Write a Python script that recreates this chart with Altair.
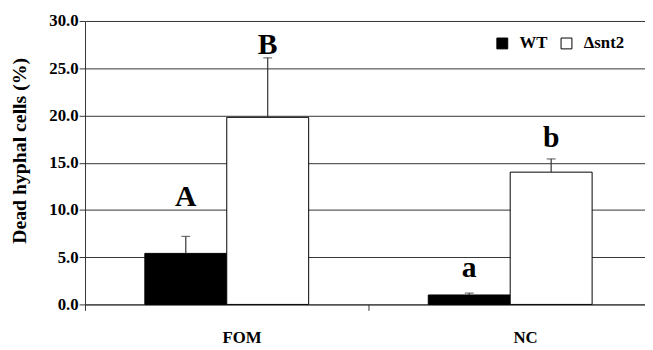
import altair as alt
import pandas as pd

conditions = ["FOM", "NC"]
strains = ["WT", "Δsnt2"]
wt_mean = [5.4, 1.0]
wt_err_top = [7.2, 1.2]
mut_mean = [19.8, 14.0]
mut_err_top = [26.1, 15.4]
wt_letters = ["A", "a"]
mut_letters = ["B", "b"]
wt_letter_y = [10.4, 2.9]
mut_letter_y = [26.5, 16.7]
y_ticks = [0, 5, 10, 15, 20, 25, 30]

rows = []
for i, c in enumerate(conditions):
    rows.append(dict(cond=c, strain=strains[0], mean=wt_mean[i], top=wt_err_top[i],
                     letter=wt_letters[i], ly=wt_letter_y[i]))
    rows.append(dict(cond=c, strain=strains[1], mean=mut_mean[i], top=mut_err_top[i],
                     letter=mut_letters[i], ly=mut_letter_y[i]))
df = pd.DataFrame(rows)

FONT = "Liberation Serif"
DARK = "#333333"

lab = dict(labelFont=FONT, labelFontSize=17, labelFontWeight="bold", labelColor="black")

x = alt.X("cond:N", sort=conditions, title=None,
          scale=alt.Scale(domain=conditions, paddingInner=0, paddingOuter=0),
          axis=alt.Axis(tickBand="extent", labelAngle=0, labelOffset=15,
                        labelPadding=20, grid=False, **lab))
xo = alt.XOffset("strain:N", sort=strains,
                 scale=alt.Scale(domain=strains, paddingInner=0, paddingOuter=0.73))
y = alt.Y("mean:Q", scale=alt.Scale(domain=[0, 30], nice=False),
          axis=alt.Axis(values=y_ticks, format=".1f", labelPadding=1, grid=True,
                        title="Dead hyphal cells (%)",
                        titleX=-66, titleY=131, titleBaseline="middle", **lab))

color = alt.Color("strain:N", sort=strains,
                  scale=alt.Scale(domain=strains, range=["black", "white"]),
                  legend=alt.Legend(title=None, orient="none", legendX=414, legendY=14,
                                    direction="horizontal", symbolType="square",
                                    symbolSize=121, symbolStrokeColor="black",
                                    symbolStrokeWidth=1, columnPadding=10, labelOffset=9,
                                    **lab))

bars = alt.Chart(df).mark_bar(stroke="black", strokeWidth=1).encode(x=x, xOffset=xo, y=y, color=color)
err = alt.Chart(df).mark_rule(color=DARK, strokeWidth=1.2).encode(
    x=x, xOffset=xo, y=alt.Y("mean:Q"), y2="top:Q")
cap = alt.Chart(df).mark_tick(color=DARK, thickness=1.2, size=9, orient="horizontal").encode(
    x=x, xOffset=xo, y=alt.Y("top:Q"))
letters = alt.Chart(df).mark_text(font=FONT, fontSize=30, fontWeight="bold",
                                  baseline="alphabetic", color="black").encode(
    x=x, xOffset=xo, y=alt.Y("ly:Q"), text="letter:N")

chart = alt.layer(bars, err, cap, letters).properties(
    width=574, height=287,
    autosize=alt.AutoSizeParams(type="none"),
    padding={"left": 78, "top": 11, "right": -7, "bottom": 44},
).configure(
    font=FONT,
).configure_view(stroke=None).configure_axis(
    titleFont=FONT, titleFontSize=20, titleFontWeight="bold", titleColor="black",
    domainColor=DARK, tickColor=DARK, tickSize=6, gridColor=DARK, gridWidth=1,
    gridOpacity=1, **lab
).configure_legend(**lab)

chart.save("out.html", embed_options={"renderer": "svg", "actions": False})
